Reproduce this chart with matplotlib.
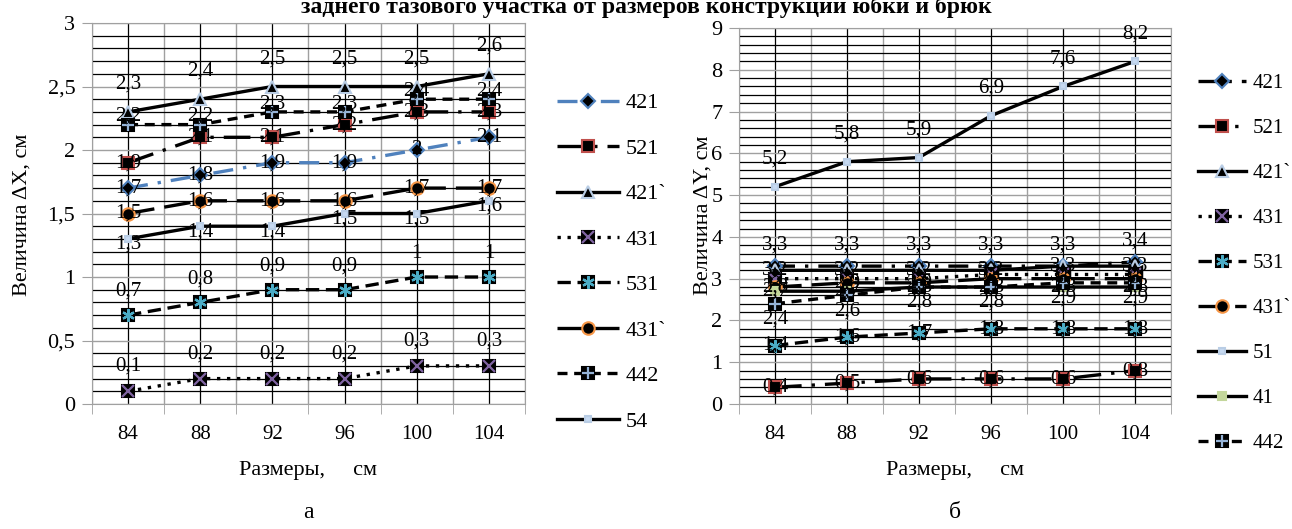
import numpy as np
import matplotlib.pyplot as plt
from matplotlib.ticker import MultipleLocator, FixedLocator, FuncFormatter

plt.rcParams['font.family'] = ['Liberation Serif', 'DejaVu Serif']

sizes = ['84', '88', '92', '96', '100', '104']

# Величина dX, см (рис. а)
names_a = ['421', '521', '421`', '431', '531', '431`', '442', '54']
dx_421 = [1.7, 1.8, 1.9, 1.9, 2.0, 2.1]
dx_521 = [1.9, 2.1, 2.1, 2.2, 2.3, 2.3]
dx_421b = [2.3, 2.4, 2.5, 2.5, 2.5, 2.6]
dx_431 = [0.1, 0.2, 0.2, 0.2, 0.3, 0.3]
dx_531 = [0.7, 0.8, 0.9, 0.9, 1.0, 1.0]
dx_431b = [1.5, 1.6, 1.6, 1.6, 1.7, 1.7]
dx_442 = [2.2, 2.2, 2.3, 2.3, 2.4, 2.4]
dx_54 = [1.3, 1.4, 1.4, 1.5, 1.5, 1.6]

# Величина dY, см (рис. б)
names_b = ['421', '521', '421`', '431', '531', '431`', '51', '41', '442']
dy_421 = [3.3, 3.3, 3.3, 3.3, 3.3, 3.4]
dy_521 = [0.4, 0.5, 0.6, 0.6, 0.6, 0.8]
dy_421b = [3.2, 3.2, 3.2, 3.2, 3.3, 3.3]
dy_431 = [3.0, 3.0, 3.0, 3.1, 3.1, 3.1]
dy_531 = [1.4, 1.6, 1.7, 1.8, 1.8, 1.8]
dy_431b = [2.8, 2.9, 2.9, 3.0, 3.0, 3.0]
dy_51 = [5.2, 5.8, 5.9, 6.9, 7.6, 8.2]
dy_41 = [2.7, 2.7, 2.8, 2.8, 2.8, 2.8]
dy_442 = [2.4, 2.6, 2.8, 2.8, 2.9, 2.9]

# marker looks: (marker, size, face, edge, overlay marker, overlay colour)
looks = {
    '421': ('D', 7, 'black', '#4f81bd', None, None),
    '521': ('s', 9, 'black', '#c0504d', None, None),
    '421`': ('^', 9, 'black', '#b9cde5', None, None),
    '431': ('s', 9, 'black', 'black', 'x', '#8064a2'),
    '531': ('s', 9, 'black', 'black', (6, 2, 0), '#4bacc6'),
    '431`': ('o', 9, 'black', '#f79646', None, None),
    '442': ('s', 9, 'black', 'black', '+', '#95b3d7'),
    '54': ('s', 5, '#c6d9f1', '#b9cde5', None, None),
    '51': ('s', 5, '#c6d9f1', '#b9cde5', None, None),
    '41': ('s', 6, '#c3d69b', '#c3d69b', None, None),
}
dashes = {
    '421': (6, 3, 1, 3), '521': (8, 3, 1, 3), '421`': None, '431': (1, 2),
    '531': (4, 2), '431`': (8, 3), '442': (3, 2), '54': None, '51': None, '41': None,
}


def lab(v):
    return f"{v:g}".replace('.', ',')


def draw(ax, name, vals, offset, color='black'):
    m, ms, fc, ec, om, oc = looks[name]
    x = np.arange(len(vals))
    line, = ax.plot(x, vals, color=color, lw=2.4, marker=m, ms=ms, mfc=fc, mec=ec, mew=1.5)
    if dashes[name] is not None:
        line.set_dashes(dashes[name])
    handle = line
    if om is not None:
        over, = ax.plot(x, vals, ls='none', marker=om, ms=9, color=oc, mew=1.6)
        handle = (line, over)
    for xi, v in zip(x, vals):
        ax.annotate(lab(v), (xi, v), xytext=(0, offset), textcoords='offset points',
                    ha='center', va='center', fontsize=15)
    return handle


def setup(ax, ymax, major, minor):
    ax.set_xlim(-0.5, 5.5)
    ax.set_ylim(0, ymax)
    ax.set_xticks(range(6))
    ax.set_xticklabels(sizes)
    ax.xaxis.set_minor_locator(FixedLocator(np.arange(-0.5, 6, 1)))
    ax.yaxis.set_major_locator(MultipleLocator(major))
    ax.yaxis.set_minor_locator(MultipleLocator(minor))
    ax.yaxis.set_major_formatter(FuncFormatter(lambda v, p: lab(round(v, 2))))
    ax.grid(which='minor', axis='y', color='black', lw=0.9)
    ax.grid(which='major', axis='y', color='#a0a0a0', lw=1)
    ax.grid(which='major', axis='x', color='black', lw=0.9)
    ax.grid(which='minor', axis='x', color='#a0a0a0', lw=1)
    ax.tick_params(which='major', axis='x', length=0, pad=15, labelsize=15)
    ax.tick_params(which='minor', axis='x', length=7, color='#a0a0a0')
    ax.tick_params(which='minor', axis='y', length=0)
    ax.tick_params(which='major', axis='y', length=7, color='#a0a0a0', labelsize=16, pad=5)
    for s in ax.spines.values():
        s.set_color('#a0a0a0')
    ax.set_axisbelow(True)


fig = plt.figure(figsize=(12.92, 5.29), dpi=100)
ax1 = fig.add_axes([92 / 1292, 1 - 404 / 529, 433 / 1292, 381 / 529])
ax2 = fig.add_axes([739 / 1292, 1 - 404 / 529, 432 / 1292, 376 / 529])

setup(ax1, 3, 0.5, 0.1)
setup(ax2, 9, 1, 0.2)

# рис. а
h_a = [
    draw(ax1, '421', dx_421, 0, color='#4f81bd'),
    draw(ax1, '521', dx_521, 0),
    draw(ax1, '421`', dx_421b, 20),
    draw(ax1, '431', dx_431, 18),
    draw(ax1, '531', dx_531, 17),
    draw(ax1, '431`', dx_431b, 0),
    draw(ax1, '442', dx_442, 6),
    draw(ax1, '54', dx_54, -4),
]

# рис. б
h_b = [
    draw(ax2, '421', dy_421, 15),
    draw(ax2, '521', dy_521, 0),
    draw(ax2, '421`', dy_421b, 0),
    draw(ax2, '431', dy_431, 0),
    draw(ax2, '531', dy_531, 0),
    draw(ax2, '431`', dy_431b, 0),
    draw(ax2, '51', dy_51, 20),
    draw(ax2, '41', dy_41, 0),
    draw(ax2, '442', dy_442, -11),
]

fig.legend(h_a, names_a, loc='upper left', bbox_to_anchor=(548 / 1292, 1 - 84 / 529),
           frameon=False, fontsize=16, labelspacing=1.12, handlelength=2.8,
           handletextpad=0.3, borderaxespad=0)
fig.legend(h_b, names_b, loc='upper left', bbox_to_anchor=(1190 / 1292, 1 - 65 / 529),
           frameon=False, fontsize=15, labelspacing=1.22, handlelength=2.3,
           handletextpad=0.3, borderaxespad=0)

fig.text(22 / 1292, 0.594, 'Величина ΔX, см', rotation=90, ha='center', va='center', fontsize=16)
fig.text(703 / 1292, 0.594, 'Величина ΔY, см', rotation=90, ha='center', va='center', fontsize=16)
fig.text(308 / 1292, 1 - 470 / 529, 'Размеры,     см', ha='center', va='center', fontsize=16)
fig.text(955 / 1292, 1 - 470 / 529, 'Размеры,     см', ha='center', va='center', fontsize=16)
fig.text(308 / 1292, 1 - 512 / 529, 'а', ha='center', va='center', fontsize=17)
fig.text(955 / 1292, 1 - 512 / 529, 'б', ha='center', va='center', fontsize=17)
fig.text(0.5, 1 - 13 / 529, 'заднего тазового участка от размеров конструкции юбки и брюк',
         ha='center', va='baseline', fontsize=17, fontweight='bold')

fig.savefig('out.png', dpi=100)
